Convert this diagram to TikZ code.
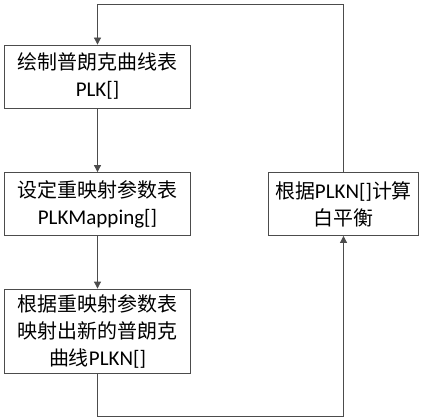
\documentclass[tikz,border=0pt]{standalone}
\usepackage{fontspec}
\setmainfont{Carlito}
\newfontfamily\cjk{Noto Sans CJK SC}[Scale=0.95]
\usetikzlibrary{arrows.meta}
\newcommand{\zh}[1]{{\cjk #1}}
\begin{document}
\begin{tikzpicture}[x=1pt,y=-1pt,
  stepbox/.style={draw=black!70,line width=0.8pt,minimum width=186pt,minimum height=63pt,inner sep=0pt,align=center,font=\fontsize{21}{27}\selectfont},
  conn/.style={draw=black!70,line width=0.8pt},
  arr/.style={conn,-{Triangle[length=7pt,width=7pt]}}]
\useasboundingbox (0,0) rectangle (423,420);
\node[stepbox] (b1) at (97.5,76.5) {\zh{绘制普朗克曲线表}\\PLK[]};
\node[stepbox] (b2) at (97.5,204) {\zh{设定重映射参数表}\\PLKMapping[]};
\node[stepbox,minimum height=84pt] (b3) at (97.5,331) {\zh{根据重映射参数表}\\\zh{映射出新的普朗克}\\\zh{曲线}PLKN[]};
\node[stepbox,minimum width=150pt] (b4) at (343.5,204) {\zh{根据}PLKN[]\zh{计算}\\\zh{白平衡}};
\coordinate (c1) at (97.5,416);
\coordinate (c2) at (343.5,416);
\coordinate (c3) at (343.5,4.5);
\coordinate (c4) at (97.5,4.5);
\draw[arr] (b1) -- (b2);
\draw[arr] (b2) -- (b3);
\draw[arr] (b3.south) -- (c1) -- (c2) -- (b4.south);
\draw[arr] (b4.north) -- (c3) -- (c4) -- (b1.north);
\end{tikzpicture}
\end{document}
